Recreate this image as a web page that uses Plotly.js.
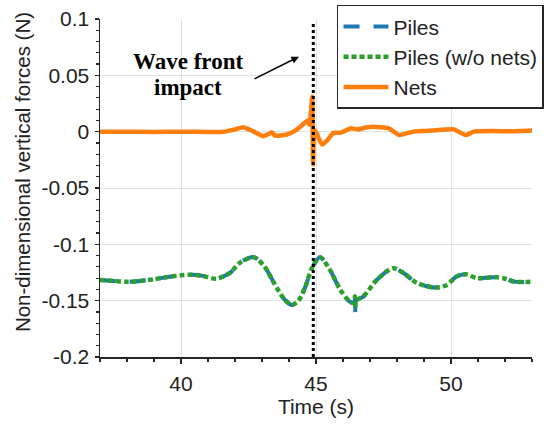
<!DOCTYPE html>
<html><head><meta charset="utf-8">
<script src="https://cdn.plot.ly/plotly-3.0.1.min.js"></script>
<style>html,body{margin:0;padding:0;background:#fff}#chart{width:548px;height:424px}</style>
</head><body><div id="chart"></div>
<script>
// ---- data ----
var pilesT = [37, 37.5, 38, 38.5, 39, 39.5, 40, 40.4, 40.8, 41.3, 41.8, 42.2, 42.7, 43.1, 43.45, 43.8, 44.1, 44.35, 44.6, 44.85, 45.15, 45.5, 45.9, 46.25, 46.42, 46.44, 46.46, 46.48, 46.75, 47.25, 47.85, 48.25, 48.75, 49.45, 49.85, 50.2, 50.55, 50.95, 51.3, 51.7, 52.0, 52.35, 52.65, 53];
var pilesV = [-0.1316, -0.1325, -0.1333, -0.1325, -0.131, -0.129, -0.1275, -0.127, -0.128, -0.1305, -0.1256, -0.116, -0.1114, -0.120, -0.1345, -0.148, -0.1538, -0.150, -0.138, -0.121, -0.1114, -0.122, -0.1404, -0.1508, -0.152, -0.140, -0.163, -0.150, -0.1464, -0.1316, -0.1212, -0.1256, -0.1345, -0.1384, -0.136, -0.1286, -0.1265, -0.130, -0.1296, -0.1292, -0.1305, -0.1331, -0.1335, -0.133];
var pilesNoNetsV = [-0.1316, -0.1325, -0.1333, -0.1325, -0.131, -0.129, -0.1275, -0.127, -0.128, -0.1305, -0.1256, -0.116, -0.1114, -0.120, -0.1345, -0.148, -0.1538, -0.150, -0.138, -0.121, -0.1114, -0.122, -0.1404, -0.1508, -0.152, -0.146, -0.157, -0.150, -0.1464, -0.1316, -0.1212, -0.1256, -0.1345, -0.1384, -0.136, -0.1286, -0.1265, -0.130, -0.1296, -0.1292, -0.1305, -0.1331, -0.1335, -0.133];
var netsT = [37, 38, 39, 40, 41, 41.6, 42, 42.3, 42.68, 43.05, 43.25, 43.36, 43.48, 43.9, 44.2, 44.45, 44.68, 44.76, 44.86, 44.89, 44.92, 44.98, 45.1, 45.23, 45.4, 45.65, 45.9, 46.3, 46.55, 46.9, 47.4, 47.7, 48.07, 48.6, 49.3, 50.1, 50.55, 50.85, 51.5, 52.2, 53];
var netsV = [0, 0, -0.0003, 0, -0.0002, 0, 0.002, 0.004, 0.0003, -0.004, -0.002, -0.0005, -0.0035, -0.0027, 0.0005, 0.005, 0.0098, 0.006, 0.031, -0.029, -0.005, 0.001, -0.006, -0.0115, -0.008, -0.001, -0.001, 0.003, 0.002, 0.004, 0.004, 0.003, -0.003, 0, 0.001, 0.002, -0.003, 0, 0.0005, 0.0003, 0.001];
var seriesNames = ['Piles', 'Piles (w/o nets)', 'Nets'];
var impactTime = 44.9;
var xTickVals = [40, 45, 50];
var yTickVals = [-0.2, -0.15, -0.1, -0.05, 0, 0.05, 0.1];
var yTickText = ['-0.2', '-0.15', '-0.1', '-0.05', '0', '0.05', '0.1'];
var annotLines = ['Wave front', 'impact'];
var xTitle = 'Time (s)';
var yTitle = 'Non-dimensional vertical forces (N)';

var FONT = 'Liberation Sans, Arial, Helvetica, sans-serif';
var SERIF = 'Liberation Serif, Times New Roman, serif';
var TXT = '#222222';
var AX = '#262626';

var traces = [
  {x: pilesT, y: pilesV, name: seriesNames[0], type: 'scatter', mode: 'lines',
   line: {color: '#1f77b4', width: 4, dash: '16px,14px', shape: 'spline', smoothing: 0.8}},
  {x: pilesT, y: pilesNoNetsV, name: seriesNames[1], type: 'scatter', mode: 'lines',
   line: {color: '#2ca02c', width: 4.5, dash: '5px,3px', shape: 'spline', smoothing: 0.8}},
  {x: netsT, y: netsV, name: seriesNames[2], type: 'scatter', mode: 'lines',
   line: {color: '#ff7f0e', width: 4.5, shape: 'spline', smoothing: 0.4}}
];

var layout = {
  width: 548, height: 424,
  margin: {l: 100, r: 16, t: 19, b: 67, autoexpand: false},
  paper_bgcolor: '#ffffff', plot_bgcolor: '#ffffff',
  font: {family: FONT, size: 21, color: TXT},
  showlegend: true,
  legend: {x: 0.5486, y: 1.042, xanchor: 'left', yanchor: 'top', itemwidth: 45,
           bgcolor: '#ffffff', bordercolor: AX, borderwidth: 1.5,
           font: {family: FONT, size: 21, color: TXT}, tracegroupgap: 0},
  xaxis: {range: [37, 53], tickmode: 'array', tickvals: xTickVals,
          showgrid: true, gridcolor: '#e2e2e2', gridwidth: 1, zeroline: false,
          showline: true, linecolor: AX, linewidth: 1.5,
          ticks: 'outside', ticklen: 5, tickwidth: 1.2, tickcolor: AX,
          tickfont: {family: FONT, size: 21, color: TXT}, ticklabelstandoff: 2,
          minor: {dtick: 1, tick0: 37, ticks: 'outside', ticklen: 3, tickcolor: AX, showgrid: false},
          title: {text: xTitle, font: {family: FONT, size: 21, color: TXT}, standoff: 2}},
  yaxis: {range: [-0.2, 0.1], tickmode: 'array', tickvals: yTickVals, ticktext: yTickText,
          showgrid: true, gridcolor: '#e2e2e2', gridwidth: 1, zeroline: false,
          showline: true, linecolor: AX, linewidth: 1.5,
          ticks: 'outside', ticklen: 4, tickwidth: 1.2, tickcolor: AX,
          tickfont: {family: FONT, size: 21, color: TXT}, ticklabelstandoff: 1,
          minor: {dtick: 0.01, tick0: 0, ticks: 'outside', ticklen: 3, tickcolor: AX, showgrid: false}},
  shapes: [
    {type: 'line', xref: 'x', yref: 'y', x0: impactTime, x1: impactTime, y0: -0.2, y1: 0.097,
     line: {color: '#000000', width: 3, dash: 'dot'}, layer: 'above'}
  ],
  annotations: [
    {xref: 'x', yref: 'y', x: 40.26, y: 0.0622, text: annotLines[0], showarrow: false,
     font: {family: SERIF, size: 23, color: '#000000', weight: 'bold'}},
    {xref: 'x', yref: 'y', x: 40.26, y: 0.0390, text: annotLines[1], showarrow: false,
     font: {family: SERIF, size: 23, color: '#000000', weight: 'bold'}},
    {xref: 'x', yref: 'y', x: 44.37, y: 0.0666, ax: -46, ay: 23, text: '', showarrow: true,
     arrowhead: 2, arrowsize: 1, arrowwidth: 1.5, arrowcolor: '#000000'},
    {xref: 'paper', yref: 'paper', x: -0.1806, y: 0.547, xanchor: 'center', yanchor: 'middle',
     text: yTitle, textangle: -90, showarrow: false,
     font: {family: FONT, size: 20.5, color: TXT}}
  ]
};

Plotly.newPlot('chart', traces, layout, {displayModeBar: false, staticPlot: true});
</script></body></html>
